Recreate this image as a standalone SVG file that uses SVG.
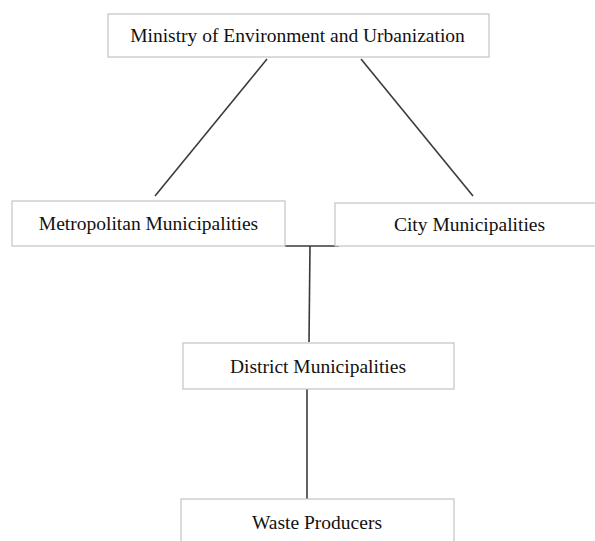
<svg xmlns="http://www.w3.org/2000/svg" width="595" height="541" viewBox="0 0 595 541">
<style>
.box{fill:#fff;stroke:#c4c4c4;stroke-width:1.2}
.lbl{font-family:"Liberation Serif","Times New Roman",serif;font-size:19.5px;fill:#111;text-anchor:middle}
.con{stroke:#3a3a3a;stroke-width:1.6;fill:none}
</style>
<rect width="595" height="541" fill="#fff"/>
<g id="connectors">
<line class="con" x1="267" y1="59" x2="155" y2="196"/>
<line class="con" x1="361" y1="59" x2="473" y2="196"/>
<line class="con" x1="285" y1="246" x2="339" y2="246"/>
<line class="con" x1="310" y1="246" x2="309" y2="342"/>
<line class="con" x1="307" y1="389" x2="307" y2="499"/>
</g>
<g id="ministry">
<rect class="box" x="108" y="14" width="381" height="43"/>
<text class="lbl" x="297.5" y="42">Ministry of Environment and Urbanization</text>
</g>
<g id="metropolitan">
<rect class="box" x="12" y="201" width="273" height="45"/>
<text class="lbl" x="148.5" y="230">Metropolitan Municipalities</text>
</g>
<g id="city">
<rect class="box" x="335" y="203" width="270" height="43"/>
<text class="lbl" x="469.5" y="231">City Municipalities</text>
</g>
<g id="district">
<rect class="box" x="183" y="343" width="271" height="46"/>
<text class="lbl" x="318" y="373">District Municipalities</text>
</g>
<g id="waste">
<rect class="box" x="181" y="499" width="273" height="60"/>
<text class="lbl" x="317" y="529">Waste Producers</text>
</g>
</svg>
